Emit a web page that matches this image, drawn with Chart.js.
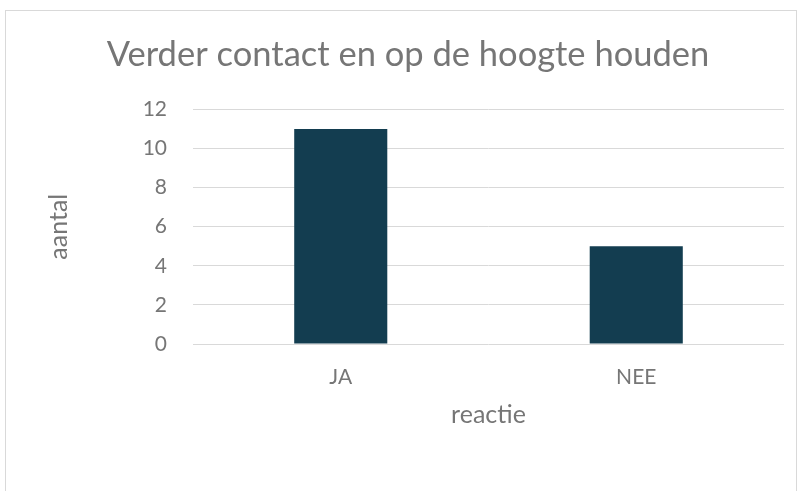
<!DOCTYPE html>
<html>
<head>
<meta charset="utf-8">
<script src="https://cdn.jsdelivr.net/npm/chart.js@4"></script>
<style>
  html, body { margin: 0; padding: 0; background: #fff; }
  #frame {
    position: absolute; left: 5px; top: 10px; width: 792px; height: 490px;
    border: 1px solid #d9d9d9; box-sizing: border-box;
  }
  #wrap { position: absolute; left: 0; top: 0; width: 803px; height: 491px; }
</style>
</head>
<body>
<div id="frame"></div>
<div id="wrap"><canvas id="bar-chart"></canvas></div>
<script>
"use strict";

const categories = ["JA", "NEE"];
const counts = [11, 5];
const yTicks = [0, 2, 4, 6, 8, 10, 12];

const textColor = "#767676";
const fontFamily = "Lato, 'Open Sans', sans-serif";

const barChart = document.getElementById("bar-chart");

new Chart(barChart, {
  type: "bar",
  data: {
    labels: categories,
    datasets: [
      {
        label: "aantal",
        data: counts,
        backgroundColor: "#133d50",
        barPercentage: 0.63,
        categoryPercentage: 0.5,
      },
    ],
  },
  options: {
    responsive: true,
    maintainAspectRatio: false,
    animation: false,
    layout: {
      // left padding shifts the centred title to where the reference has it
      padding: { left: 32, right: 19, top: 0, bottom: 61 },
    },
    plugins: {
      legend: { display: false },
      tooltip: { enabled: false },
      title: {
        display: true,
        text: "Verder contact en op de hoogte houden",
        color: textColor,
        font: { family: fontFamily, size: 34.5, weight: "normal", lineHeight: 1.2 },
        padding: { top: 34, bottom: 34 },
      },
    },
    scales: {
      x: {
        afterFit: (scale) => {
          scale.height = 86;
        },
        grid: { display: false, drawTicks: false },
        border: { display: false },
        ticks: {
          color: textColor,
          padding: 21,
          font: { family: fontFamily, size: 21 },
        },
        title: {
          display: true,
          text: "reactie",
          color: textColor,
          font: { family: fontFamily, size: 25 },
          padding: { top: 10, bottom: 0 },
        },
      },
      y: {
        min: 0,
        max: 12,
        afterBuildTicks: (scale) => {
          scale.ticks = yTicks.map((v) => ({ value: v }));
        },
        afterFit: (scale) => {
          scale.width = 161; // plot area starts at x=193 like the reference
        },
        grid: { color: "#d9d9d9", lineWidth: 1, drawTicks: false },
        border: { display: false },
        ticks: {
          color: textColor,
          padding: 26,
          font: { family: fontFamily, size: 21 },
        },
        title: {
          display: true,
          text: "aantal",
          color: textColor,
          font: { family: fontFamily, size: 25 },
          padding: { top: 12, bottom: 0 },
        },
      },
    },
  },
});
</script>
</body>
</html>
